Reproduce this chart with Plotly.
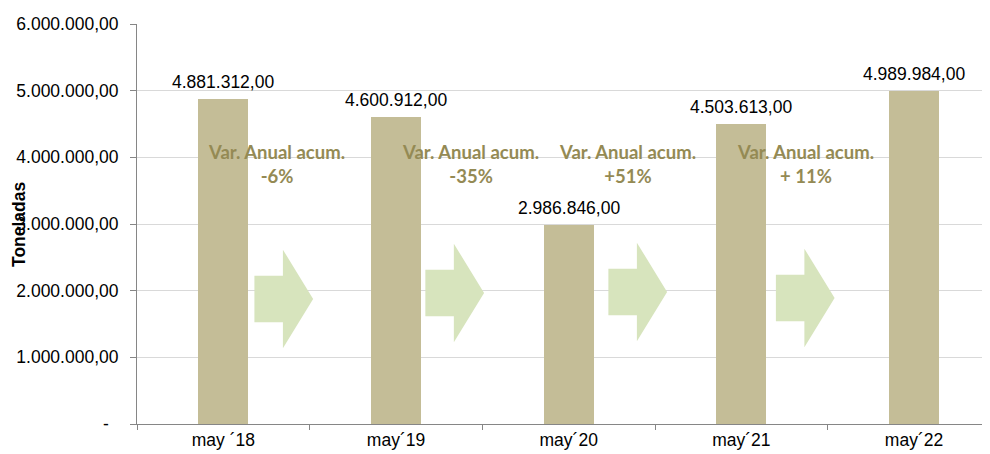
import plotly.graph_objects as go

categories = ["may \u00b418", "may\u00b419", "may\u00b420", "may\u00b421", "may\u00b422"]
toneladas = [4881312.00, 4600912.00, 2986846.00, 4503613.00, 4989984.00]
var_labels = ["-6%", "-35%", "+51%", "+ 11%"]
y_tickvals = [0, 1e6, 2e6, 3e6, 4e6, 5e6, 6e6]
y_ticktext = ["-\u00a0\u00a0", "1.000.000,00", "2.000.000,00", "3.000.000,00",
              "4.000.000,00", "5.000.000,00", "6.000.000,00"]


def fmt_es(v):
    s = f"{v:,.2f}"
    return s.replace(",", "X").replace(".", ",").replace("X", ".")


BAR = "#c4bd97"
ARROW = "#d7e4bd"
VARC = "#948a54"
FONT = "Liberation Sans, Arial, sans-serif"
FS = 17.5

fig = go.Figure()
fig.add_trace(go.Bar(
    x=categories, y=toneladas, width=0.29,
    marker=dict(color=BAR, line=dict(width=0)),
    hoverinfo="skip",
))

# decorative arrows between bars (offsets in category units / data units)
arrow_left = [0.18, 0.17, 0.23, 0.20]
arrow_mid = [1.875e6, 1.965e6, 1.98e6, 1.89e6]
body_h = 0.35e6
head_h = 0.74e6
shapes = []
for i, (l, m) in enumerate(zip(arrow_left, arrow_mid)):
    x0 = i + l
    xb = x0 + 0.165
    xt = x0 + 0.34
    path = (f"M {x0},{m+body_h} L {xb},{m+body_h} L {xb},{m+head_h} "
            f"L {xt},{m} L {xb},{m-head_h} L {xb},{m-body_h} L {x0},{m-body_h} Z")
    shapes.append(dict(type="path", path=path, xref="x", yref="y",
                       fillcolor=ARROW, line=dict(width=0), layer="above"))

annotations = []
# data labels above bars
for c, v in zip(categories, toneladas):
    annotations.append(dict(
        x=c, y=v, xref="x", yref="y", showarrow=False,
        text=fmt_es(v), yanchor="bottom", yshift=5,
        font=dict(family=FONT, size=FS, color="#000000"),
    ))

var_offsets = [0.31, 0.43, 0.34, 0.37]
for i, (off, lab) in enumerate(zip(var_offsets, var_labels)):
    annotations.append(dict(
        x=i + off, y=3.9e6, xref="x", yref="y", showarrow=False,
        text=f"<b>Var. Anual acum.</b><br><b>{lab}</b>",
        font=dict(family="Lato, Calibri, sans-serif", size=18.5, color=VARC),
        align="center",
    ))
annotations.append(dict(
    x=(19 - 137) / 853, y=0.5, xref="paper", yref="paper", showarrow=False,
    xanchor="center", yanchor="middle",
    text="<b>Toneladas</b>", textangle=-90,
    font=dict(family=FONT, size=FS, color="#000000"),
))

# page body has an 8px default margin, so the figure is 8px smaller
fig.update_layout(
    width=982, height=446,
    margin=dict(l=129, r=0, t=16, b=30, autoexpand=False),
    paper_bgcolor="white", plot_bgcolor="white",
    showlegend=False,
    shapes=shapes, annotations=annotations,
    bargap=0,
    xaxis=dict(
        type="category", range=[-0.5, 4.44], tickson="boundaries",
        ticks="outside", ticklen=5, tickcolor="#868686",
        showline=True, linecolor="#868686", linewidth=1,
        showgrid=False, zeroline=False, automargin=False,
        tickfont=dict(family=FONT, size=FS, color="#000000"),
    ),
    yaxis=dict(
        range=[0, 6e6], tickvals=y_tickvals, ticktext=y_ticktext,
        ticks="outside", ticklen=6, tickcolor="#868686",
        ticklabelstandoff=8,
        showline=True, linecolor="#868686", linewidth=1,
        showgrid=True, gridcolor="#d9d9d9", gridwidth=1,
        zeroline=False, automargin=False,
        tickfont=dict(family=FONT, size=FS, color="#000000"),
    ),
)

fig.write_html("out.html")
